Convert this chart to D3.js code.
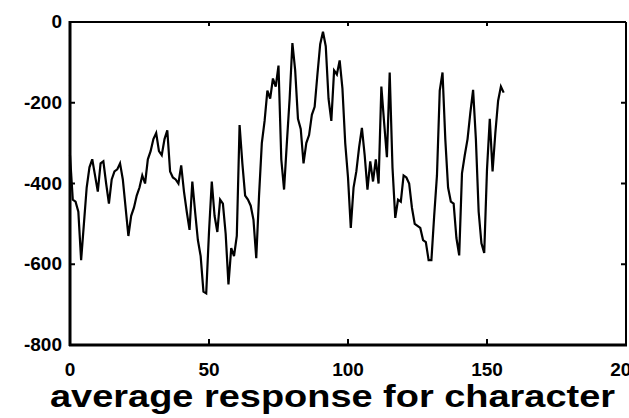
<!DOCTYPE html>
<html>
<head>
<meta charset="utf-8">
<script src="https://cdn.jsdelivr.net/npm/d3@7"></script>
<style>
  body { margin: 0; background: #fff; }
  svg { display: block; }
  text { font-family: "Liberation Sans", Arial, sans-serif; font-weight: bold; fill: #000; }
</style>
</head>
<body>
<svg width="629" height="418"></svg>
<script>
var svg = d3.select("svg"),
    width = +svg.attr("width"),
    height = +svg.attr("height");

// average response, one value per character index 0..156
var response = [
  -330, -440, -445, -470, -590, -500, -410, -360, -340, -380,
  -420, -350, -345, -400, -450, -390, -370, -365, -350, -390,
  -460, -530, -480, -460, -430, -410, -380, -400, -340, -320,
  -290, -275, -320, -330, -290, -268, -370, -385, -390, -400,
  -355, -420, -470, -515, -395, -470, -540, -580, -668, -672,
  -520, -395, -480, -520, -440, -450, -525, -650, -560, -580,
  -530, -255, -350, -430, -440, -455, -490, -585, -430, -300,
  -245, -170, -190, -140, -160, -108, -340, -415, -300, -190,
  -52, -120, -240, -265, -350, -300, -280, -230, -210, -130,
  -55, -24, -60, -190, -245, -120, -130, -95, -165, -300,
  -385, -510, -410, -370, -310, -262, -330, -415, -345, -395,
  -340, -400, -160, -250, -335, -125, -360, -485, -440, -445,
  -380, -385, -400, -460, -500, -505, -510, -540, -545, -590,
  -590, -480, -380, -170, -125, -290, -410, -445, -450, -535,
  -578, -375, -330, -290, -225, -168, -290, -470, -548, -572,
  -365, -240, -370, -275, -195, -160, -175
];

var xTicks = [0, 50, 100, 150, 200];
var yTicks = [0, -200, -400, -600, -800];
var title = "average response for character";

var plotLeft = 70, plotRight = 626, plotTop = 22, plotBottom = 345;

var x = d3.scaleLinear().domain([0, 200]).range([plotLeft, plotRight]);
var y = d3.scaleLinear().domain([-800, 0]).range([plotBottom, plotTop]);

// data line
var line = d3.line()
  .x(function(d, i) { return x(i); })
  .y(function(d) { return y(d); });

svg.append("path")
  .datum(response)
  .attr("d", line)
  .attr("fill", "none")
  .attr("stroke", "#000")
  .attr("stroke-width", 2.2);

// inward ticks, left/right
svg.selectAll(".ytick")
  .data(yTicks.slice(1, -1))
  .enter().append("g")
  .each(function(d) {
    var g = d3.select(this);
    g.append("line").attr("x1", plotLeft).attr("x2", plotLeft + 5)
      .attr("y1", y(d)).attr("y2", y(d)).attr("stroke", "#000").attr("stroke-width", 2);
    g.append("line").attr("x1", plotRight - 5).attr("x2", plotRight)
      .attr("y1", y(d)).attr("y2", y(d)).attr("stroke", "#000").attr("stroke-width", 2);
  });

// inward ticks, bottom/top
svg.selectAll(".xtick")
  .data(xTicks.slice(1, -1))
  .enter().append("g")
  .each(function(d) {
    var g = d3.select(this);
    g.append("line").attr("x1", x(d)).attr("x2", x(d))
      .attr("y1", plotBottom).attr("y2", plotBottom - 6).attr("stroke", "#000").attr("stroke-width", 2);
    g.append("line").attr("x1", x(d)).attr("x2", x(d))
      .attr("y1", plotTop).attr("y2", plotTop + 4).attr("stroke", "#000").attr("stroke-width", 2);
  });

// box
svg.append("line").attr("x1", plotLeft).attr("x2", plotRight).attr("y1", plotTop).attr("y2", plotTop)
  .attr("stroke", "#000").attr("stroke-width", 2);
svg.append("line").attr("x1", plotRight).attr("x2", plotRight).attr("y1", plotTop).attr("y2", plotBottom)
  .attr("stroke", "#000").attr("stroke-width", 2);
svg.append("line").attr("x1", plotLeft).attr("x2", plotLeft).attr("y1", plotTop - 1).attr("y2", plotBottom + 1)
  .attr("stroke", "#000").attr("stroke-width", 3);
svg.append("line").attr("x1", plotLeft - 1).attr("x2", plotRight + 1).attr("y1", plotBottom).attr("y2", plotBottom)
  .attr("stroke", "#000").attr("stroke-width", 3);

// tick labels
svg.selectAll(".ylab")
  .data(yTicks)
  .enter().append("text")
  .attr("x", plotLeft - 8)
  .attr("y", function(d) { return y(d) + 6; })
  .attr("text-anchor", "end")
  .style("font-size", "19px")
  .text(function(d) { return d; });

svg.selectAll(".xlab")
  .data(xTicks)
  .enter().append("text")
  .attr("x", function(d) { return x(d); })
  .attr("y", plotBottom + 31)
  .attr("text-anchor", "middle")
  .style("font-size", "19px")
  .text(function(d) { return d; });

svg.append("text")
  .attr("x", 50)
  .attr("y", 407)
  .attr("textLength", 565)
  .attr("lengthAdjust", "spacingAndGlyphs")
  .style("font-size", "32px")
  .text(title);
</script>
</body>
</html>
